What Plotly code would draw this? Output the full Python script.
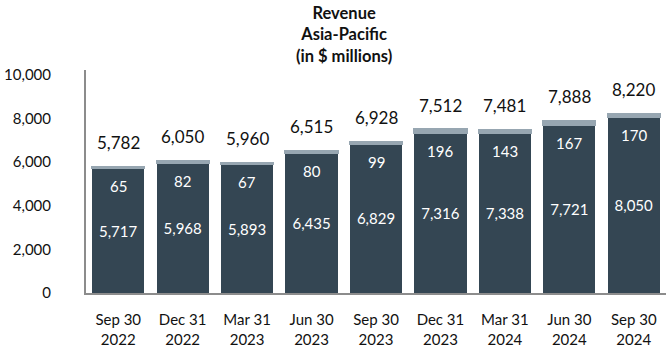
import plotly.graph_objects as go

categories = ["Sep 30<br>2022", "Dec 31<br>2022", "Mar 31<br>2023", "Jun 30<br>2023",
              "Sep 30<br>2023", "Dec 31<br>2023", "Mar 31<br>2024", "Jun 30<br>2024",
              "Sep 30<br>2024"]
base_values = [5717, 5968, 5893, 6435, 6829, 7316, 7338, 7721, 8050]
top_values = [65, 82, 67, 80, 99, 196, 143, 167, 170]
totals = [5782, 6050, 5960, 6515, 6928, 7512, 7481, 7888, 8220]
y_ticks = [0, 2000, 4000, 6000, 8000, 10000]
title_text = "Revenue<br>Asia-Pacific<br>(in $ millions)"

DARK = "#344653"
LIGHT = "#97a6b1"
FONT = "Lato"

fig = go.Figure()
fig.add_trace(go.Bar(
    x=categories, y=base_values, marker_color=DARK, marker_line_width=0,
    text=[f"{v:,}" for v in base_values], textposition="inside",
    insidetextanchor="middle", textangle=0,
    textfont=dict(color="white", size=15, family=FONT), hoverinfo="skip",
))
fig.add_trace(go.Bar(
    x=categories, y=top_values, marker_color=LIGHT,
    marker_line=dict(color=LIGHT, width=2), hoverinfo="skip",
))

for c, b, t, tot in zip(categories, base_values, top_values, totals):
    fig.add_annotation(x=c, y=b, text=f"{t:,}", showarrow=False, yshift=-18,
                       yanchor="middle", font=dict(color="white", size=15, family=FONT))
    fig.add_annotation(x=c, y=tot, text=f"{tot:,}", showarrow=False, yshift=24,
                       yanchor="middle", font=dict(color="#111111", size=17, family=FONT))

fig.add_annotation(xref="paper", yref="paper", x=0.445, y=1, yshift=2,
                   xanchor="center", yanchor="bottom", showarrow=False,
                   text=title_text,
                   font=dict(family=FONT, size=16.5, color="#111111", weight="bold"))

fig.update_layout(
    width=670, height=352, barmode="stack", bargap=0.19, showlegend=False,
    plot_bgcolor="white", paper_bgcolor="white",
    margin=dict(l=78, r=4, t=70, b=56),
    font=dict(family=FONT, color="#111111"),
)
fig.update_yaxes(range=[0, 10220], tickvals=y_ticks, tickformat=",", showgrid=False,
                 showline=True, linecolor="#8c8c8c", linewidth=2, zeroline=False,
                 ticklabelstandoff=30, tickfont=dict(size=15, family=FONT))
fig.update_xaxes(showline=True, linecolor="#8c8c8c", linewidth=2, showgrid=False,
                 ticklabelstandoff=12, tickfont=dict(size=15, family=FONT))

fig.write_html("out.html")
